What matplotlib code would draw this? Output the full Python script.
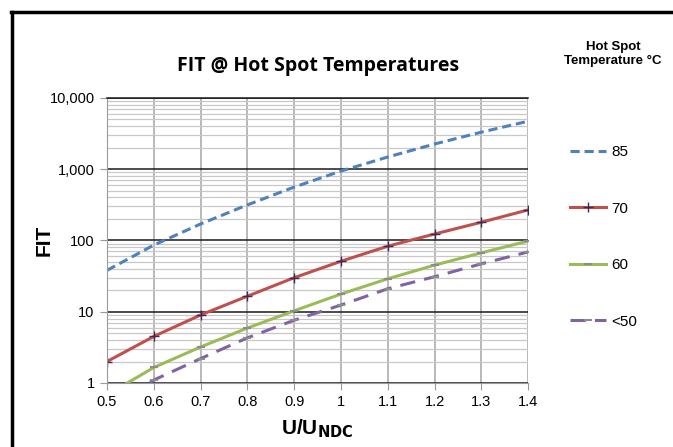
import matplotlib.pyplot as plt
from matplotlib.lines import Line2D
from matplotlib.ticker import FuncFormatter, LogLocator, NullFormatter

# valeurs
u = [0.5, 0.6, 0.7, 0.8, 0.9, 1.0, 1.1, 1.2, 1.3, 1.4]
fit_85 = [38, 86, 170, 315, 560, 940, 1480, 2250, 3300, 4700]
fit_70 = [2.0, 4.5, 9.0, 16.5, 30, 51, 83, 123, 180, 268]
fit_60 = [0.68, 1.65, 3.2, 5.9, 10.3, 17.7, 29, 45, 67, 98]
fit_50 = [0.48, 1.1, 2.2, 4.3, 7.6, 12.4, 21, 31, 47, 69]
noms = ["85", "70", "60", "<50"]
xticks = [0.5, 0.6, 0.7, 0.8, 0.9, 1.0, 1.1, 1.2, 1.3, 1.4]

plt.rcParams['font.family'] = ['Liberation Sans', 'DejaVu Sans']

fig = plt.figure(figsize=(6.73, 4.47), dpi=100)
ax = fig.add_axes([0.159, 0.1432, 0.626, 0.638])

ax.plot(u, fit_85, color='#4F81BD', lw=2.2, dashes=(3, 1.6), label=noms[0])
ax.plot(u, fit_70, color='#C0504D', lw=2.2, marker='+', ms=7, mew=1,
        mec='#3F2A56', label=noms[1])
ax.plot(u, fit_60, color='#9BBB59', lw=2.2, marker='_', ms=6, mew=1.5,
        mec='#8C8C8C', label=noms[2])
ax.plot(u, fit_50, color='#8064A2', lw=2.2, dashes=(5, 3), marker='_', ms=6,
        mew=1.5, mec='#8C8C8C', label=noms[3])

ax.set_yscale('log')
ax.set_ylim(1, 10000)
ax.set_xlim(0.5, 1.4)
ax.set_xticks(xticks)
ax.set_xticklabels(['{:g}'.format(v) for v in xticks])
ax.yaxis.set_major_locator(LogLocator(base=10, numticks=10))
ax.yaxis.set_minor_locator(LogLocator(base=10, subs=range(2, 10), numticks=10))
ax.yaxis.set_minor_formatter(NullFormatter())
ax.yaxis.set_major_formatter(FuncFormatter(lambda v, p: '{:,.0f}'.format(v)))

ax.grid(True, which='major', axis='y', color='#1a1a1a', lw=1.1)
ax.grid(True, which='minor', axis='y', color='#c8c8c8', lw=0.9)
ax.grid(True, which='major', axis='x', color='#a6a6a6', lw=1.1)
ax.set_axisbelow(True)

ax.spines['right'].set_visible(False)
ax.spines['top'].set_color('#1a1a1a')
ax.spines['top'].set_linewidth(1.1)
for s in ['left', 'bottom']:
    ax.spines[s].set_color('#9a9a9a')
ax.tick_params(axis='both', which='major', length=5, color='#9a9a9a',
               labelsize=10.5, pad=4)
ax.tick_params(axis='y', which='minor', length=0)

ax.set_ylabel('FIT', fontsize=15, fontweight='bold', va='center')
ax.yaxis.set_label_coords(-0.15, 0.5)
ax.set_xlabel(r'U/U$_{\mathbf{NDC}}$', fontsize=15, fontweight='bold', labelpad=6)

fig.text(0.473, 0.852, 'FIT @ Hot Spot Temperatures', ha='center', va='center',
         fontsize=14, fontweight='bold', family=['Open Sans', 'DejaVu Sans'])
fig.text(0.911, 0.879, 'Hot Spot\nTemperature °C', ha='center', va='center',
         fontsize=9.5, fontweight='bold', linespacing=1.25)

leg = ax.legend(loc='upper left', bbox_to_anchor=(1.08, 0.86), frameon=False,
                fontsize=11, handlelength=2.4, handletextpad=0.3,
                labelspacing=2.78, borderpad=0)

# cadre extérieur
fig.add_artist(Line2D([0.018, 0.018], [0.0, 0.973], color='black', lw=2.5,
                      transform=fig.transFigure))
fig.add_artist(Line2D([0.017, 1.0], [0.973, 0.973], color='black', lw=2.5,
                      transform=fig.transFigure))

fig.savefig('out.png', dpi=100)
